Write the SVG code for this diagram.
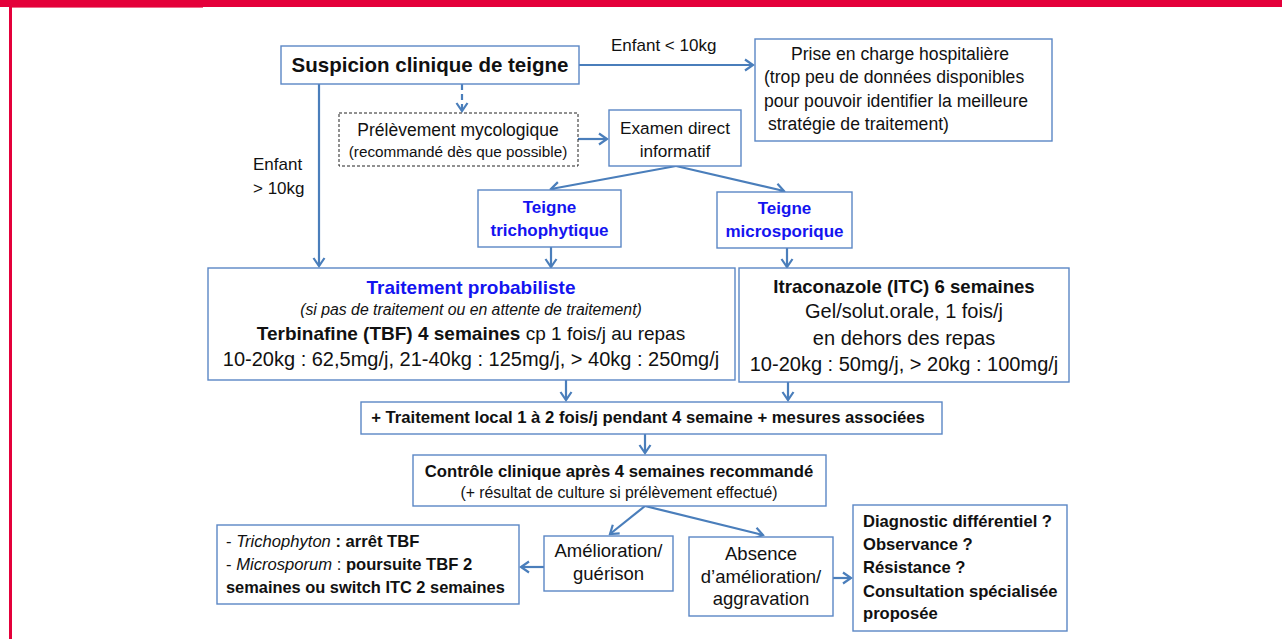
<svg xmlns="http://www.w3.org/2000/svg" width="1282" height="639" viewBox="0 0 1282 639">
  <style>
    text { font-family: "Liberation Sans", Arial, sans-serif; fill: #111; }
    .box { fill: #fff; stroke: #5b87c5; stroke-width: 1.4; }
    .dash { fill: #fff; stroke: #222; stroke-width: 1; stroke-dasharray: 3 2; }
    .link { fill: none; stroke: #4a7ebb; stroke-width: 2.2; marker-end: url(#open); }
    .b { font-weight: bold; }
    .i { font-style: italic; }
    .blue { fill: #1414f0; font-weight: bold; }
    .c { text-anchor: middle; }
  </style>
  <defs>
    <marker id="open" viewBox="-11 -7 13 14" refX="0" refY="0" markerWidth="13" markerHeight="14" markerUnits="userSpaceOnUse" orient="auto">
      <path d="M-8,-5.5 L0,0 L-8,5.5" fill="none" stroke="#4a7ebb" stroke-width="2.2" stroke-linejoin="miter"/>
    </marker>
  </defs>

  <!-- page frame -->
  <rect x="0" y="0" width="1282" height="7" fill="#e4003a"/>
  <rect x="10" y="7" width="193" height="1" fill="#f06a8a"/>
  <rect x="9" y="7" width="3" height="632" fill="#e4003a"/>

  <!-- connectors -->
  <g id="connectors">
    <line class="link" x1="579" y1="65" x2="753" y2="65"/>
    <line class="link" x1="319" y1="84" x2="319" y2="266"/>
    <line class="link" x1="462" y1="84" x2="462" y2="111" stroke-dasharray="6 4"/>
    <line class="link" x1="578" y1="139" x2="607" y2="139"/>
    <line class="link" x1="676" y1="166" x2="551" y2="189"/>
    <line class="link" x1="676" y1="166" x2="784" y2="191"/>
    <line class="link" x1="551" y1="247" x2="551" y2="267"/>
    <line class="link" x1="787" y1="248" x2="787" y2="267"/>
    <line class="link" x1="566" y1="380" x2="566" y2="400"/>
    <line class="link" x1="788" y1="382" x2="788" y2="400"/>
    <line class="link" x1="645" y1="434" x2="645" y2="453"/>
    <line class="link" x1="645" y1="506" x2="610" y2="534"/>
    <line class="link" x1="645" y1="506" x2="763" y2="535"/>
    <line class="link" x1="544" y1="567" x2="521" y2="567"/>
    <line class="link" x1="833" y1="578" x2="851" y2="578"/>
  </g>

  <!-- edge labels -->
  <text x="611" y="51" font-size="17">Enfant &lt; 10kg</text>
  <text x="253" y="170" font-size="17">Enfant</text>
  <text x="253" y="194" font-size="17">&gt; 10kg</text>

  <g id="suspicion">
    <rect class="box" x="281" y="46" width="298" height="38"/>
    <text class="b c" x="430" y="72" font-size="20.5">Suspicion clinique de teigne</text>
  </g>

  <g id="hospitalisation">
    <rect class="box" x="755" y="39" width="297" height="102"/>
    <text class="c" x="900" y="60" font-size="17.6">Prise en charge hospitalière</text>
    <text x="764" y="83" font-size="17.6">(trop peu de données disponibles</text>
    <text x="764" y="107" font-size="17.6">pour pouvoir identifier la meilleure</text>
    <text x="768" y="130" font-size="17.6">stratégie de traitement)</text>
  </g>

  <g id="prelevement">
    <rect class="dash" x="339" y="113" width="239" height="53"/>
    <text class="c" x="458" y="136" font-size="17.5">Prélèvement mycologique</text>
    <text class="c" x="458" y="157" font-size="15.3">(recommandé dès que possible)</text>
  </g>

  <g id="examen">
    <rect class="box" x="609" y="110" width="132" height="56"/>
    <text class="c" x="675" y="134" font-size="17.2">Examen direct</text>
    <text class="c" x="675" y="157" font-size="17.2">informatif</text>
  </g>

  <g id="trichophytique">
    <rect class="box" x="478" y="190" width="143" height="57"/>
    <text class="blue c" x="549.5" y="213" font-size="17">Teigne</text>
    <text class="blue c" x="549.5" y="236" font-size="17">trichophytique</text>
  </g>

  <g id="microsporique">
    <rect class="box" x="717" y="192" width="135" height="56"/>
    <text class="blue c" x="784.5" y="214" font-size="17">Teigne</text>
    <text class="blue c" x="784.5" y="237" font-size="17">microsporique</text>
  </g>

  <g id="probabiliste">
    <rect class="box" x="208" y="268" width="527" height="112"/>
    <text class="blue c" x="471" y="294" font-size="19">Traitement probabiliste</text>
    <text class="i c" x="471" y="315" font-size="15.8">(si pas de traitement ou en attente de traitement)</text>
    <text class="c" x="471" y="340" font-size="19"><tspan class="b">Terbinafine (TBF) 4 semaines</tspan> cp 1 fois/j au repas</text>
    <text class="c" x="471" y="366" font-size="20">10-20kg : 62,5mg/j, 21-40kg : 125mg/j, &gt; 40kg : 250mg/j</text>
  </g>

  <g id="itraconazole">
    <rect class="box" x="739" y="268" width="330" height="114"/>
    <text class="b c" x="904" y="293" font-size="18.6">Itraconazole (ITC) 6 semaines</text>
    <text class="c" x="904" y="318" font-size="20">Gel/solut.orale, 1 fois/j</text>
    <text class="c" x="904" y="345" font-size="20">en dehors des repas</text>
    <text class="c" x="904" y="371" font-size="20">10-20kg : 50mg/j, &gt; 20kg : 100mg/j</text>
  </g>

  <g id="local">
    <rect class="box" x="361" y="402" width="581" height="32"/>
    <text class="b c" x="648" y="423" font-size="16.7">+ Traitement local 1 à 2 fois/j pendant 4 semaine + mesures associées</text>
  </g>

  <g id="controle">
    <rect class="box" x="413" y="455" width="413" height="51"/>
    <text class="b c" x="619" y="477" font-size="16.7">Contrôle clinique après 4 semaines recommandé</text>
    <text class="c" x="619" y="498" font-size="15.8">(+ résultat de culture si prélèvement effectué)</text>
  </g>

  <g id="suite">
    <rect class="box" x="217" y="525" width="302" height="79"/>
    <text x="226" y="547" font-size="16.6">- <tspan class="i">Trichophyton</tspan><tspan class="b"> : arrêt TBF</tspan></text>
    <text x="226" y="570" font-size="16.6">- <tspan class="i">Microsporum</tspan> : <tspan class="b">poursuite TBF 2</tspan></text>
    <text class="b" x="226" y="593" font-size="16.4">semaines ou switch ITC 2 semaines</text>
  </g>

  <g id="amelioration">
    <rect class="box" x="544" y="536" width="129" height="55"/>
    <text class="c" x="608.5" y="557" font-size="18.5">Amélioration/</text>
    <text class="c" x="608.5" y="580" font-size="18.5">guérison</text>
  </g>

  <g id="absence">
    <rect class="box" x="689" y="537" width="144" height="79"/>
    <text class="c" x="761" y="560" font-size="18.5">Absence</text>
    <text class="c" x="761" y="583" font-size="18.5">d’amélioration/</text>
    <text class="c" x="761" y="605" font-size="18.5">aggravation</text>
  </g>

  <g id="differentiel">
    <rect class="box" x="853" y="505" width="214" height="126"/>
    <text class="b" x="863" y="527" font-size="16.6">Diagnostic différentiel ?</text>
    <text class="b" x="863" y="550" font-size="16.6">Observance ?</text>
    <text class="b" x="863" y="573" font-size="16.6">Résistance ?</text>
    <text class="b" x="863" y="597" font-size="16.6">Consultation spécialisée</text>
    <text class="b" x="863" y="619" font-size="16.6">proposée</text>
  </g>
</svg>
